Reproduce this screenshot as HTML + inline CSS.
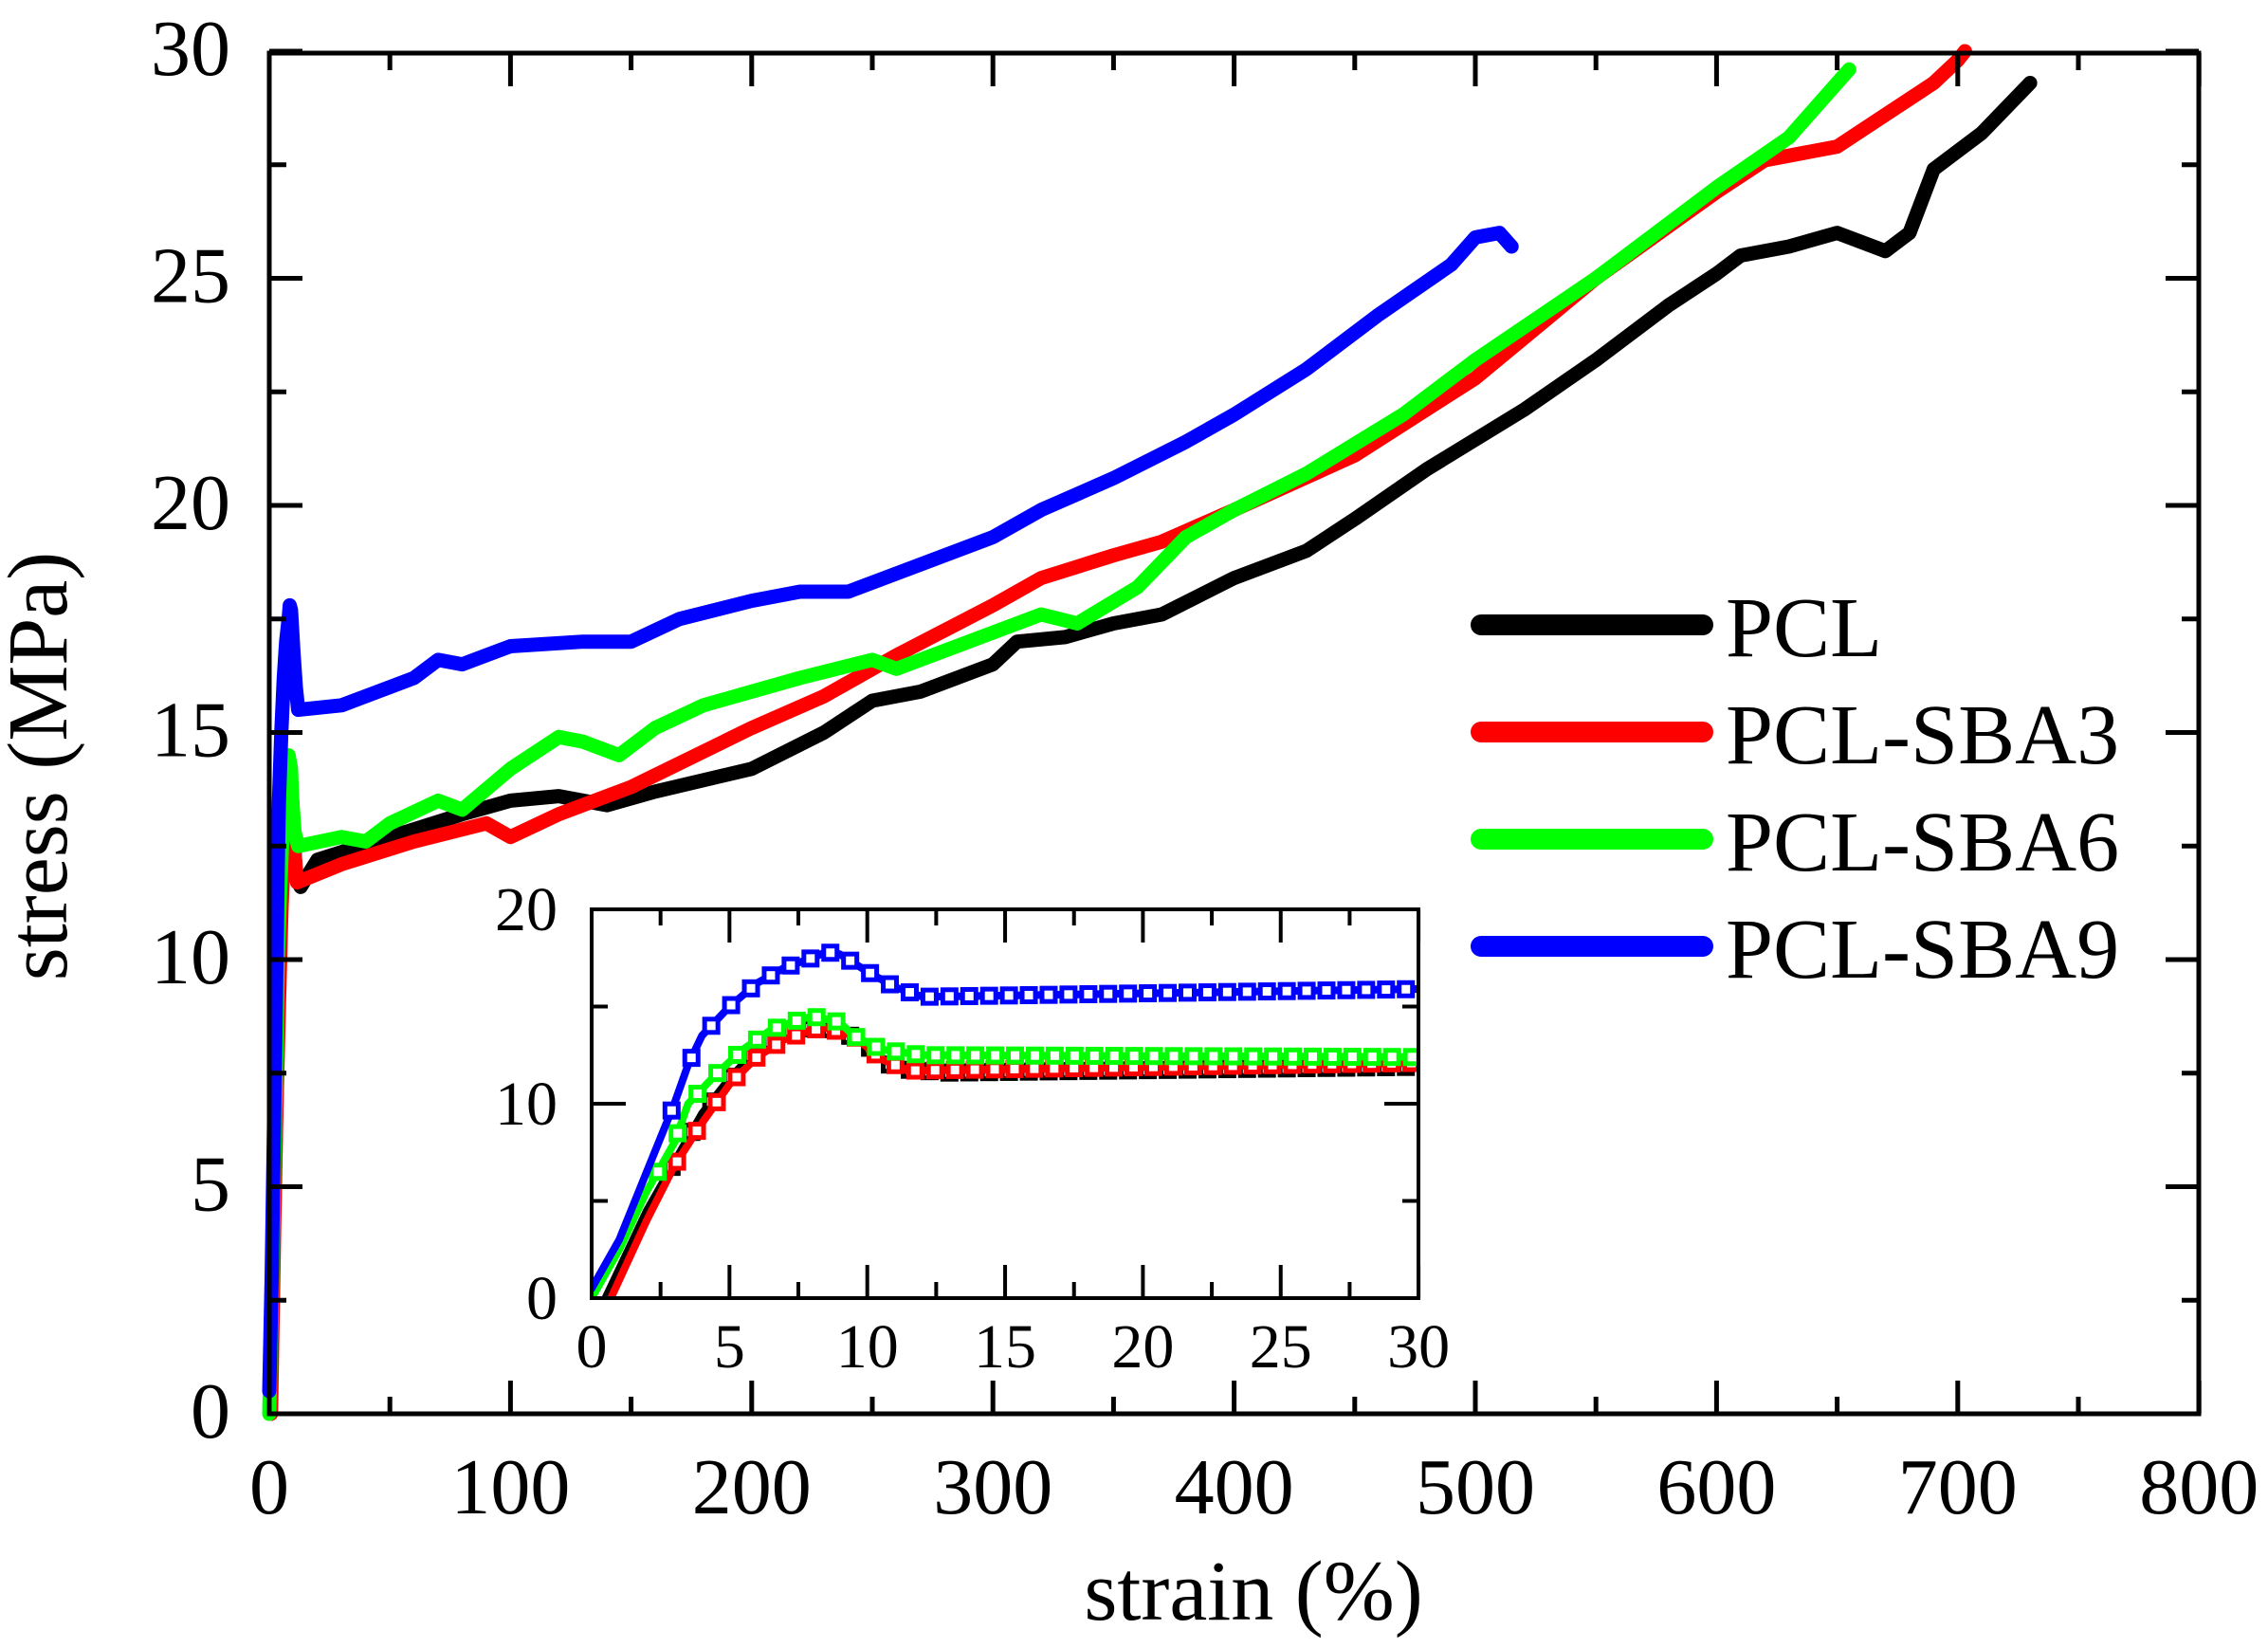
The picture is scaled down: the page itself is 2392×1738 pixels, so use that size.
<!DOCTYPE html>
<html><head><meta charset="utf-8">
<style>
html,body{margin:0;padding:0;background:#fff;}
svg{display:block;}
text{font-family:"Liberation Serif","Times New Roman",serif;fill:#000;}
</style></head>
<body>
<svg id="s" width="2392" height="1738" viewBox="0 0 2392 1738" xmlns="http://www.w3.org/2000/svg">
<g id="main"></g>
<g id="inset"></g>
<g stroke-linecap="round" stroke-width="22">
<line x1="1562" y1="659" x2="1796" y2="659" stroke="#000"/>
<line x1="1562" y1="772" x2="1796" y2="772" stroke="#f00"/>
<line x1="1562" y1="885" x2="1796" y2="885" stroke="#0f0"/>
<line x1="1562" y1="998" x2="1796" y2="998" stroke="#00f"/>
</g>
<g font-size="90">
<text x="1820" y="692">PCL</text>
<text x="1820" y="805">PCL-SBA3</text>
<text x="1820" y="918">PCL-SBA6</text>
<text x="1820" y="1031">PCL-SBA9</text>
</g>
<text x="1322" y="1708" font-size="90" text-anchor="middle">strain (%)</text>
<text transform="translate(70,808) rotate(-90)" font-size="90" text-anchor="middle">stress (MPa)</text>
</svg>
<script>
const NS="http://www.w3.org/2000/svg";
function el(p,t,a){const e=document.createElementNS(NS,t);for(const k in a)e.setAttribute(k,a[k]);p.appendChild(e);return e;}
function txt(p,x,y,s,fs,anc){const e=el(p,'text',{x:x,y:y,'font-size':fs,'text-anchor':anc});e.textContent=s;return e;}
const M=document.getElementById('main'),I=document.getElementById('inset');
const X=s=>284+s*2.544, Y=v=>1491-v*47.9;
function poly(g,pts,fx,fy,col,w){el(g,'polyline',{points:pts.map(p=>fx(p[0]).toFixed(1)+','+fy(p[1]).toFixed(1)).join(' '),fill:'none',stroke:col,'stroke-width':w,'stroke-linejoin':'round','stroke-linecap':'round'});}
const blk=[[0.5,0],[2,4.5],[3,7],[4,9.5],[5,11.3],[6,12.8],[7,13.6],[8,13.9],[9,13.8],[10,13],[11,11.8],[13,11.6],[20,12.2],[50,12.7],[80,13.2],[100,13.5],[120,13.6],[140,13.4],[160,13.7],[200,14.2],[230,15],[250,15.7],[270,15.9],[300,16.5],[310,17],[330,17.1],[350,17.4],[370,17.6],[400,18.4],[430,19],[450,19.7],[480,20.8],[520,22.1],[550,23.2],[580,24.4],[600,25.1],[610,25.5],[630,25.7],[650,26],[670,25.6],[680,26],[690,27.4],[710,28.2],[730,29.3]];
const red=[[0.7,0],[2,4],[3,6.8],[4,9],[5,11],[6,12.4],[7,13.3],[8,13.8],[8.5,13.9],[9.5,13.5],[10.5,12.3],[11.5,11.7],[30,12.1],[60,12.6],[90,13],[100,12.7],[120,13.2],[150,13.8],[200,15.1],[230,15.8],[260,16.7],[300,17.8],[320,18.4],[350,18.9],[370,19.2],[400,19.9],[450,21.1],[500,22.8],[550,25],[600,26.9],[620,27.6],[650,27.9],[690,29.3],[700,29.8],[703,30]];
const grn=[[0,0],[1,2.5],[2,5.5],[3,8],[3.5,10],[4.5,11.5],[5.5,12.8],[6.5,13.8],[7.5,14.3],[8,14.5],[9,14.2],[9.5,13.5],[10.5,12.8],[12,12.5],[30,12.7],[40,12.6],[50,13],[70,13.5],[80,13.3],[100,14.2],[120,14.9],[130,14.8],[145,14.5],[160,15.1],[180,15.6],[200,15.9],[220,16.2],[250,16.6],[260,16.4],[300,17.2],[320,17.6],[335,17.4],[360,18.2],[380,19.3],[400,19.9],[430,20.7],[470,22],[500,23.2],[550,25],[600,27],[630,28.1],[650,29.3],[655,29.6]];
const blu=[[0,0.5],[1,3],[2,6.5],[3,10],[3.5,12],[4,13.5],[5,15],[6,16.2],[7,17],[8,17.5],[8.5,17.8],[9,17.7],[10,16.8],[11,16],[12,15.5],[30,15.6],[50,16],[60,16.2],[70,16.6],[80,16.5],[100,16.9],[130,17],[150,17],[170,17.5],[200,17.9],[220,18.1],[240,18.1],[260,18.5],[300,19.3],[320,19.9],[350,20.6],[380,21.4],[400,22],[430,23],[460,24.2],[490,25.3],[500,25.9],[510,26],[515,25.7]];
poly(M,blk,X,Y,'#000',15);poly(M,red,X,Y,'#f00',15);poly(M,grn,X,Y,'#0f0',15);poly(M,blu,X,Y,'#00f',15);
el(M,'rect',{x:284,y:56,width:2035,height:1435,fill:'none',stroke:'#000','stroke-width':5});
for(let s=0;s<=800;s+=50){const maj=s%100==0,L=maj?35:18,x=X(s);
 el(M,'line',{x1:x,y1:1491,x2:x,y2:1491-L,stroke:'#000','stroke-width':5});
 el(M,'line',{x1:x,y1:56,x2:x,y2:56+L,stroke:'#000','stroke-width':5});
 if(maj)txt(M,x,1596,String(s),84,'middle');}
for(let v=0;v<=30;v+=2.5){const maj=v%5==0,L=maj?35:18,y=Y(v);
 el(M,'line',{x1:284,y1:y,x2:284+L,y2:y,stroke:'#000','stroke-width':5});
 el(M,'line',{x1:2319,y1:y,x2:2319-L,y2:y,stroke:'#000','stroke-width':5});
 if(maj)txt(M,243,y+25,String(v),84,'end');}
const XI=s=>624+s*29.07, YI=v=>1369-v*20.5;
el(I,'rect',{x:624,y:959,width:872,height:410,fill:'#fff',stroke:'none'});
const clip=el(I,'clipPath',{id:'ci'});el(clip,'rect',{x:624,y:959,width:872,height:410});
const G=el(I,'g',{'clip-path':'url(#ci)'});
const sets=[[blk,'#000'],[red,'#f00'],[grn,'#0f0'],[blu,'#00f']];
for(const [d,c] of sets){const dd=d.filter(p=>p[0]<=13).concat([[30,d===blk?11.9:d===red?12.1:d===grn?12.4:15.9]]);
 poly(G,dd,XI,YI,c,8);
 function interp(x){for(let i=1;i<dd.length;i++){if(dd[i][0]>=x){const a=dd[i-1],b=dd[i];return a[1]+(b[1]-a[1])*(x-a[0])/(b[0]-a[0]);}}return dd[dd.length-1][1];}
 for(let x=dd[0][0]+(d===blu?2.9:2.4);x<=30.5;x+=0.72){const px=XI(x),py=YI(interp(x));
  el(G,'rect',{x:px-7,y:py-7,width:14,height:14,fill:'#fff',stroke:c,'stroke-width':5});}
}
el(I,'rect',{x:624,y:959,width:872,height:410,fill:'none',stroke:'#000','stroke-width':4});
for(let s=0;s<=30;s+=2.5){const maj=s%5==0,L=maj?35:17,x=XI(s);
 el(I,'line',{x1:x,y1:1369,x2:x,y2:1369-L,stroke:'#000','stroke-width':4});
 el(I,'line',{x1:x,y1:959,x2:x,y2:959+L,stroke:'#000','stroke-width':4});
 if(maj)txt(I,x,1442,String(s),66,'middle');}
for(let v=0;v<=20;v+=5){const maj=v%10==0,L=maj?36:17,y=YI(v);
 el(I,'line',{x1:624,y1:y,x2:624+L,y2:y,stroke:'#000','stroke-width':4});
 el(I,'line',{x1:1496,y1:y,x2:1496-L,y2:y,stroke:'#000','stroke-width':4});
 if(maj)txt(I,588,y+22,String(v),66,'end');}
</script>
</body></html>
